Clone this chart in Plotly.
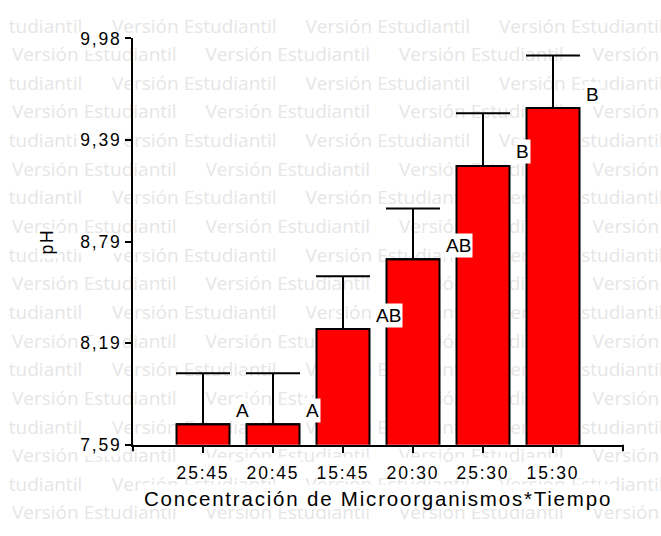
import numpy as np
import plotly.graph_objects as go

# ---------------- data ----------------
categories = ["25:45", "20:45", "15:45", "20:30", "25:30", "15:30"]
ph_means = [7.71, 7.71, 8.27, 8.68, 9.23, 9.57]
ph_errors = [0.30, 0.30, 0.31, 0.30, 0.31, 0.31]
letters = ["A", "A", "AB", "AB", "B", "B"]
y_ticktext = ["7,59", "8,19", "8,79", "9,39", "9,98"]
y_min, y_max = 7.59, 9.98
x_title = "Concentración de Microorganismos*Tiempo"
y_title = "pH"
watermark_text = "Versión Estudiantil"
watermark_tail = "tudiantil"

# ---------------- layout constants (pixels) ----------------
W, H = 661, 536
PL, PR, PT, PB = 133, 623, 29.5, 451.5
FONT = "Liberation Sans, Arial, sans-serif"
n = len(categories)
y_ticks = list(np.linspace(y_min, y_max, len(y_ticktext)))


def xpix(i):
    return PL + (i + 1) * (PR - PL) / (n + 1)


def ypix(v):
    return PB - (v - y_min) * (PB - PT) / (y_max - y_min)


fig = go.Figure()

# ---- watermark layer (full-page pixel axes) ----
wm_font = dict(family="Open Sans", size=19, color="#e6e6e6")
PERIOD = 193.5
ROW0, ROWSTEP = 18.5, 29.75
wm_x, wm_y, wm_t = [], [], []
for r in range(18):
    yy = ROW0 + r * ROWSTEP
    off = 112 if r % 2 == 0 else 12
    for k in range(0, 4):
        xs = off + k * PERIOD
        if xs < W:
            wm_x.append(xs)
            wm_y.append(yy)
            wm_t.append(watermark_text)
    if r % 2 == 0:
        wm_x.append(off - PERIOD + 90.3)
        wm_y.append(yy)
        wm_t.append(watermark_tail)
fig.add_trace(go.Scatter(
    x=wm_x, y=wm_y, mode="text", text=wm_t,
    textposition="middle right", textfont=wm_font,
    hoverinfo="skip", showlegend=False, xaxis="x", yaxis="y"))

# white boxes behind axis texts
bx, by = [], []


def rect(x0, x1, y0, y1):
    bx.extend([x0, x1, x1, x0, x0, None])
    by.extend([y0, y0, y1, y1, y0, None])


for t in y_ticks:
    cy = ypix(t) + 2.5
    rect(79, 123, cy - 9.5, cy + 9.5)
for i in range(n):
    cx = xpix(i)
    rect(cx - 27.5, cx + 27.5, 465, 484)
rect(139, 616, 493, 518)
rect(37, 59, 228, 258)
fig.add_trace(go.Scatter(
    x=bx, y=by, mode="lines", fill="toself", fillcolor="white",
    line=dict(width=0, color="white"), hoverinfo="skip", showlegend=False,
    xaxis="x", yaxis="y"))

# ---- main chart ----
fig.add_trace(go.Bar(
    x=categories, y=ph_means, xaxis="x2", yaxis="y2",
    marker=dict(color="#ff0000", line=dict(color="black", width=2)),
    error_y=dict(type="data", array=ph_errors, arrayminus=[0] * n,
                 symmetric=False, color="black", thickness=2, width=27),
    hoverinfo="skip", showlegend=False))

annotations = []
for c, v, lt in zip(categories, ph_means, letters):
    annotations.append(dict(
        x=c, y=v, xref="x2", yref="y2", text=lt, showarrow=False,
        xanchor="left", yanchor="middle", xshift=31, yshift=14,
        bgcolor="white", borderpad=1,
        font=dict(family=FONT, size=19, color="black")))

shapes = []
for xd in (0, 1):
    shapes.append(dict(
        type="line", xref="x2 domain", yref="y2 domain", x0=xd, x1=xd,
        ysizemode="pixel", yanchor=0, y0=0, y1=-6.5,
        line=dict(color="black", width=2)))

axis_common = dict(showline=True, linecolor="black", linewidth=2,
                   ticks="outside", ticklen=6, tickwidth=2, tickcolor="black",
                   showgrid=False, zeroline=False, fixedrange=True)

fig.update_layout(
    width=W, height=H, autosize=False,
    margin=dict(l=0, r=0, t=0, b=0, pad=0),
    paper_bgcolor="white", plot_bgcolor="rgba(0,0,0,0)",
    showlegend=False, bargap=0.243,
    xaxis=dict(domain=[0, 1], range=[0, W], visible=False, fixedrange=True),
    yaxis=dict(domain=[0, 1], range=[H, 0], visible=False, fixedrange=True),
    xaxis2=dict(domain=[PL / W, PR / W], anchor="y2", type="category",
                categoryorder="array", categoryarray=categories,
                range=[-1, n], ticklabelstandoff=5,
                tickfont=dict(family=FONT, size=17.5, color="black"),
                title=dict(text=x_title, standoff=10,
                           font=dict(family=FONT, size=20.5, color="black")),
                **axis_common),
    yaxis2=dict(domain=[1 - PB / H, 1 - PT / H], anchor="x2",
                range=[y_min, y_max], tickvals=y_ticks, ticktext=y_ticktext,
                tickfont=dict(family=FONT, size=17.5, color="black"),
                title=dict(text=y_title, standoff=29,
                           font=dict(family=FONT, size=17.5, color="black")),
                **axis_common),
    annotations=annotations, shapes=shapes,
)

js = """
var gd = document.getElementById('{plot_id}');
gd.querySelectorAll('g.x2tick text, g.y2tick text, text.x2title, text.y2title').forEach(function(t){ t.style.letterSpacing = '1.8px'; });
"""
fig.write_html("out.html", post_script=js, config={"displayModeBar": False})
